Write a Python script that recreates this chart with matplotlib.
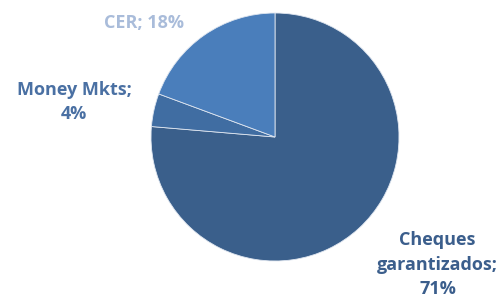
import matplotlib.pyplot as plt

labels = ['Cheques\ngarantizados;\n71%', 'Money Mkts;\n4%', 'CER; 18%']
values = [71, 4, 18]

colors = ['#3a5f8b', '#406da2', '#4a7ebb']
text_colors = ['#3b5e8c', '#4a70a3', '#a9bcda']
# label spots in units of the pie radius
label_pos = [(1.31, -1.03), (-1.62, 0.28), (-1.06, 0.92)]

plt.rcParams['font.family'] = ['Open Sans', 'DejaVu Sans']

fig = plt.figure(figsize=(5, 3.03), dpi=100)
ax = fig.add_axes([0, 0, 1, 1])
ax.pie(values, colors=colors, startangle=90, counterclock=False,
       radius=1.0, center=(0, 0),
       wedgeprops={'edgecolor': '#dfe6f0', 'linewidth': 0.6})

for lab, (x, y), c in zip(labels, label_pos, text_colors):
    ax.text(x, y, lab, ha='center', va='center', color=c,
            fontsize=13, fontweight='bold', linespacing=1.45)

ax.set_xlim(-275 / 124, 225 / 124)
ax.set_ylim(-166 / 124, 137 / 124)
ax.set_aspect('auto')
ax.axis('off')

fig.savefig('out.png', dpi=100)
